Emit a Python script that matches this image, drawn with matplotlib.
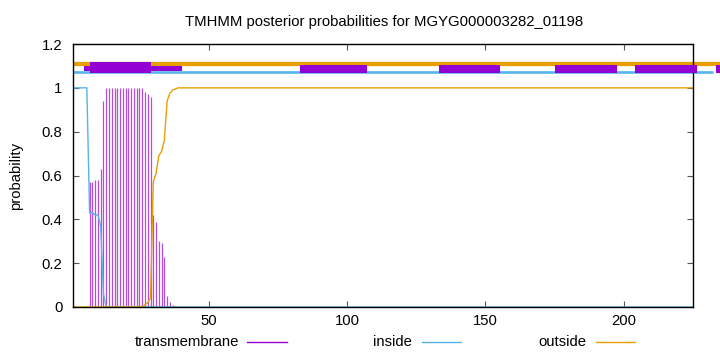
import matplotlib
matplotlib.use("Agg")
import matplotlib.pyplot as plt
from matplotlib.patches import Rectangle
from matplotlib.lines import Line2D

plt.rcParams['font.family'] = ['Liberation Sans', 'DejaVu Sans']
plt.rcParams['font.size'] = 10.7

# sequence positions 1..225
n = 225
pos = list(range(1, n + 1))

# posterior probabilities (first 40 positions, then plateau)
tm_head = [0, 0, 0, 0, 0, 0, 0.57, 0.57, 0.58, 0.58,
           0.63, 0.94, 1.0, 1.0, 1.0, 1.0, 1.0, 1.0, 1.0, 1.0,
           1.0, 1.0, 1.0, 1.0, 1.0, 1.0, 0.98, 0.97, 0.96, 0.42,
           0.39, 0.30, 0.29, 0.23, 0.05, 0.025, 0.01, 0.005, 0, 0]
inside_head = [1.0, 1.0, 1.0, 1.0, 1.0, 1.0, 0.43, 0.43, 0.42, 0.42,
               0.37, 0.06, 0, 0, 0, 0, 0, 0, 0, 0,
               0, 0, 0, 0, 0, 0, 0, 0, 0, 0,
               0, 0, 0, 0, 0, 0, 0, 0, 0, 0]
outside_head = [0, 0, 0, 0, 0, 0, 0, 0, 0, 0,
                0, 0, 0, 0, 0, 0, 0, 0, 0, 0,
                0, 0, 0, 0, 0, 0, 0.01, 0.02, 0.04, 0.57,
                0.61, 0.69, 0.71, 0.76, 0.94, 0.975, 0.99, 0.995, 1.0, 1.0]
tm = tm_head + [0.0] * (n - len(tm_head))
inside = inside_head + [0.0] * (n - len(inside_head))
outside = outside_head + [1.0] * (n - len(outside_head))

# region bars drawn above the curves
outside_bar = (1, 236, 1.110)
inside_bar = (1, 232.3, 1.073)
tm_boxes = [(4.8, 40.2, 1.079, 1.100), (7.0, 29.0, 1.067, 1.116),
            (83.0, 107.2, 1.067, 1.105), (133.1, 155.2, 1.067, 1.105),
            (175.1, 197.4, 1.067, 1.105), (204.1, 226.3, 1.067, 1.105),
            (233.3, 240.0, 1.067, 1.105)]

c_tm = '#9400D3'
c_in = '#56B4E9'
c_out = '#E69F00'

fig = plt.figure(figsize=(7.2, 3.52), dpi=100)
ax = fig.add_axes([73 / 720, 1 - 307 / 352, 620 / 720, 263 / 352])

ax.vlines(pos, 0, tm, color=c_tm, lw=0.9, alpha=0.7)
ax.plot(pos, inside, color=c_in, lw=1.0)
ax.plot(pos, outside, color=c_out, lw=1.0)

ax.plot(outside_bar[:2], [outside_bar[2]] * 2, color=c_out, lw=3.1,
        solid_capstyle='butt', clip_on=False)
ax.plot(inside_bar[:2], [inside_bar[2]] * 2, color=c_in, lw=1.9,
        solid_capstyle='butt', clip_on=False)
for x0, x1, y0, y1 in tm_boxes:
    ax.add_patch(Rectangle((x0, y0), x1 - x0, y1 - y0, facecolor=c_tm,
                           edgecolor='none', clip_on=False, zorder=3))

ax.set_xlim(1, 225)
ax.set_ylim(0, 1.2)
ax.set_xticks([50, 100, 150, 200])
ax.set_yticks([0, 0.2, 0.4, 0.6, 0.8, 1.0, 1.2])
ax.set_yticklabels(['0', '0.2', '0.4', '0.6', '0.8', '1', '1.2'])
ax.tick_params(direction='in', length=4, width=0.8, top=True, right=True,
               color='#555555')
ax.tick_params(axis='y', pad=7.5)
ax.tick_params(axis='x', pad=5)
for s in ax.spines.values():
    s.set_linewidth(1.0)

fig.text(384 / 720, 1 - 22 / 352, 'TMHMM posterior probabilities for MGYG000003282_01198',
         ha='center', va='center')
fig.text(16 / 720, 1 - 176 / 352, 'probability', rotation=90, ha='center', va='center')

# legend below the plot: text then sample line
leg_y = 1 - 341.5 / 352
for label, col, tx, lx0, lx1 in [('transmembrane', c_tm, 239, 247, 287),
                                 ('inside', c_in, 412, 422, 461),
                                 ('outside', c_out, 586, 596, 635)]:
    fig.text(tx / 720, leg_y, label, ha='right', va='center')
    fig.add_artist(Line2D([lx0 / 720, lx1 / 720], [leg_y, leg_y], color=col, lw=1.0))

fig.savefig('out.png', dpi=100)
